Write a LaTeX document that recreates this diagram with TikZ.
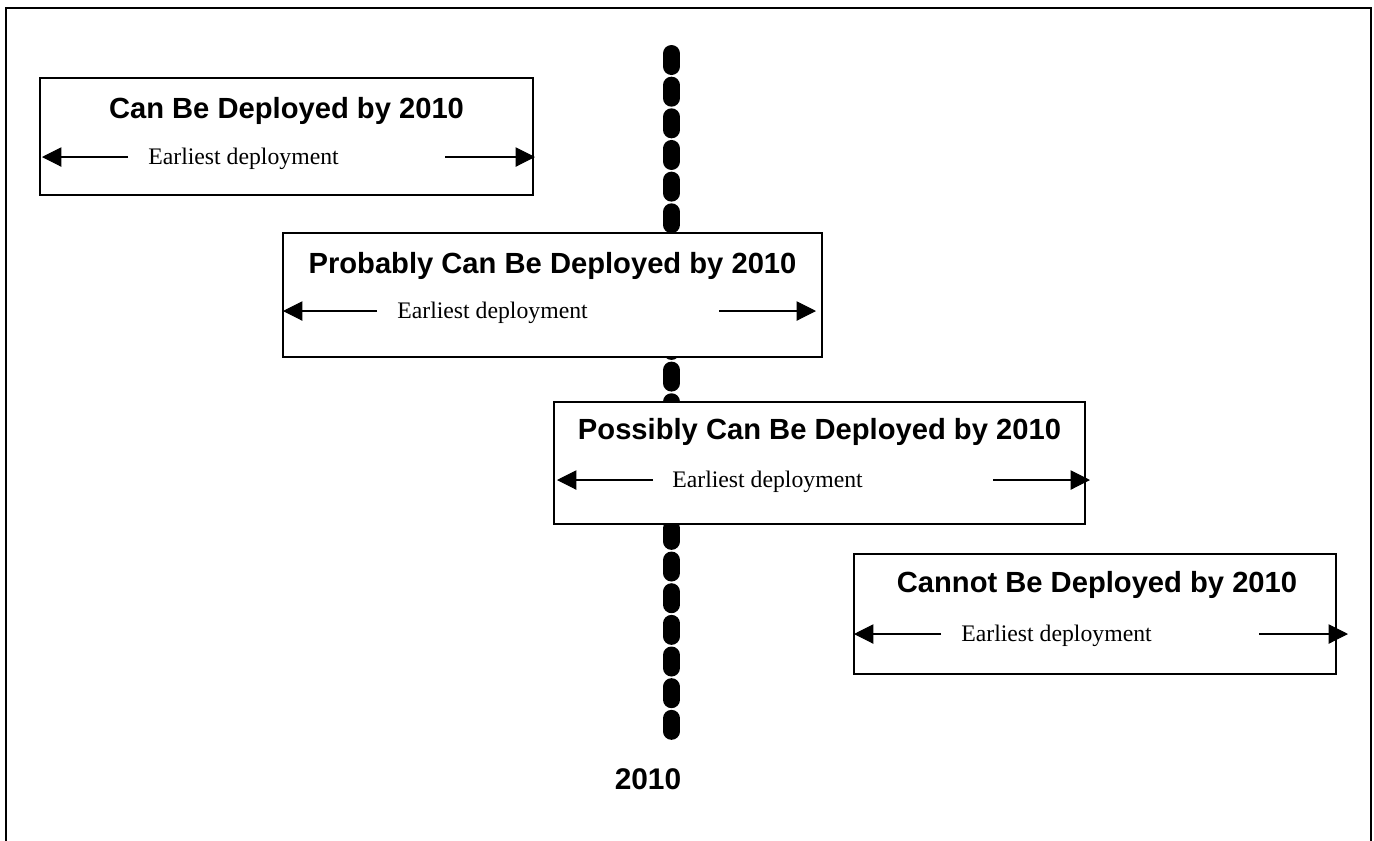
\documentclass[tikz,border=0pt]{standalone}
\usepackage{fontspec}
\setmainfont{Liberation Serif}
\setsansfont{Liberation Sans}
\usetikzlibrary{arrows.meta,fit}

\tikzset{
    box/.style={draw, line width=0.8pt, fill=white, inner sep=0pt},
    heading/.style={font=\sffamily\bfseries\fontsize{16.6}{20}\selectfont, anchor=base, inner sep=0pt},
    early/.style={font=\fontsize{13.5}{15}\selectfont, anchor=west, inner sep=0pt},
    span/.style={line width=0.6pt, -{Triangle[length=11pt,width=11pt]}},
    cutoff/.style={line width=0.34cm, line cap=round, dash pattern=on 0.26cm off 0.3733cm}
}

\begin{document}
\begin{tikzpicture}[x=0.02cm, y=-0.02cm]
            \useasboundingbox (0,0) rectangle (1374,840);
            \draw[line width=1.2pt] (6,8) rectangle (1371,846);

            % the 2010 line
            \coordinate (top) at (671.5,53.5);
            \coordinate (bot) at (671.5,731.5);
            \draw[cutoff] (top) -- (bot);
            \node[heading, font=\sffamily\bfseries\fontsize{17}{20}\selectfont] (year) at (648,789) {2010};

            % can
            \node[box, fit={(40,78) (533,195)}] (b1) {};
            \node[heading] (t1) at (286.5,118) {Can Be Deployed by 2010};
            \node[early] (e1) at (148,159) {Earliest deployment};
            \coordinate (l1) at (128,157);
            \coordinate (r1) at (445,157);
            \draw[span] (l1) -- +(-86,0);
            \draw[span] (r1) -- +(90,0);

            % probably
            \node[box, fit={(283,233) (822,357)}] (b2) {};
            \node[heading] (t2) at (552.5,273) {Probably Can Be Deployed by 2010};
            \node[early] (e2) at (397,313) {Earliest deployment};
            \coordinate (l2) at (377,311);
            \coordinate (r2) at (719,311);
            \draw[span] (l2) -- +(-94,0);
            \draw[span] (r2) -- +(97,0);

            % possibly
            \node[box, fit={(554,402) (1085,524)}] (b3) {};
            \node[heading] (t3) at (819.5,439) {Possibly Can Be Deployed by 2010};
            \node[early] (e3) at (672,482) {Earliest deployment};
            \coordinate (l3) at (653,480);
            \coordinate (r3) at (993,480);
            \draw[span] (l3) -- +(-96,0);
            \draw[span] (r3) -- +(97,0);

            % cannot
            \node[box, fit={(854,554) (1336,674)}] (b4) {};
            \node[heading] (t4) at (1097,592) {Cannot Be Deployed by 2010};
            \node[early] (e4) at (961,636) {Earliest deployment};
            \coordinate (l4) at (941,634);
            \coordinate (r4) at (1259,634);
            \draw[span] (l4) -- +(-87,0);
            \draw[span] (r4) -- +(89,0);
        \end{tikzpicture}
\end{document}
